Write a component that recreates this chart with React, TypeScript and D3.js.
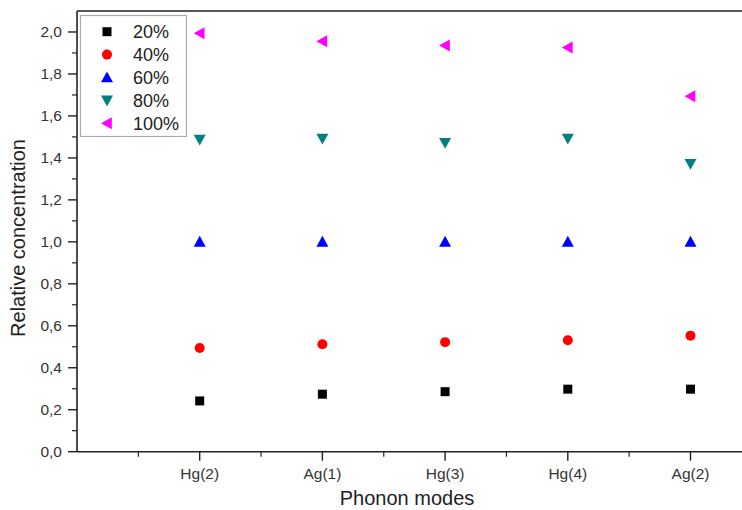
import React from "react";
import * as d3 from "d3";

const categories = ["Hg(2)", "Ag(1)", "Hg(3)", "Hg(4)", "Ag(2)"];
const seriesNames = ["20%", "40%", "60%", "80%", "100%"];
const s20 = [0.242, 0.274, 0.286, 0.298, 0.298];
const s40 = [0.494, 0.512, 0.522, 0.531, 0.553];
const s60 = [1.0, 1.0, 1.0, 1.0, 1.0];
const s80 = [1.488, 1.492, 1.472, 1.492, 1.372];
const s100 = [1.994, 1.956, 1.936, 1.926, 1.694];
const yTicks = [0, 0.2, 0.4, 0.6, 0.8, 1.0, 1.2, 1.4, 1.6, 1.8, 2.0];

const W = 742;
const H = 510;
const left = 77;
const top = 11;
const bottom = 451.7;
const right = 742;

const colors = ["#000000", "#ff0000", "#0000ff", "#008080", "#ff00ff"];
const shapes = ["square", "circle", "up", "down", "left"];
const allSeries = [s20, s40, s60, s80, s100];

function Marker({ shape, x, y, color }: { shape: string; x: number; y: number; color: string }) {
  if (shape === "square") return <rect x={x - 4.5} y={y - 4.5} width={9} height={9} fill={color} />;
  if (shape === "circle") return <circle cx={x} cy={y} r={5} fill={color} />;
  const s = 6;
  let pts: [number, number][] = [];
  if (shape === "up") pts = [[x, y - s], [x + s, y + s * 0.8], [x - s, y + s * 0.8]];
  if (shape === "down") pts = [[x, y + s], [x + s, y - s * 0.8], [x - s, y - s * 0.8]];
  if (shape === "left") pts = [[x - s, y], [x + s * 0.8, y - s], [x + s * 0.8, y + s]];
  return <polygon points={pts.map((p) => p.join(",")).join(" ")} fill={color} />;
}

export default function App() {
  const x = d3.scaleLinear().domain([0, (right - left) / 122.7]).range([left, right]);
  const y = d3.scaleLinear().domain([0, 2.1]).range([bottom, top]);
  const minorY = d3.range(0.1, 2.1, 0.2);
  const minorX = [0.5, 1.5, 2.5, 3.5, 4.5];
  const font = "'Liberation Sans', Arial, sans-serif";

  return (
    <svg width={W} height={H} style={{ position: "absolute", left: 0, top: 0, background: "#fff" }} fontFamily={font}>
      <rect x={0} y={0} width={W} height={H} fill="#fff" />
      <line x1={left} x2={right} y1={top} y2={top} stroke="#222" strokeWidth={1.6} />
      <line x1={left} x2={left} y1={top} y2={bottom} stroke="#222" strokeWidth={1.6} />
      <line x1={left} x2={right} y1={bottom} y2={bottom} stroke="#222" strokeWidth={1.6} />
      {yTicks.map((t) => (
        <g key={"y" + t}>
          <line x1={left - 9} x2={left} y1={y(t)} y2={y(t)} stroke="#222" strokeWidth={1.4} />
          <text x={62} y={y(t) + 5.5} textAnchor="end" fontSize={15.5} fill="#333">
            {t.toFixed(1).replace(".", ",")}
          </text>
        </g>
      ))}
      {minorY.map((t) => (
        <line key={"my" + t} x1={left - 5} x2={left} y1={y(t)} y2={y(t)} stroke="#222" strokeWidth={1.2} />
      ))}
      {categories.map((c, i) => (
        <g key={c}>
          <line x1={x(i + 1)} x2={x(i + 1)} y1={bottom} y2={bottom + 9} stroke="#222" strokeWidth={1.4} />
          <text x={x(i + 1)} y={479} textAnchor="middle" fontSize={15.5} fill="#333">
            {c}
          </text>
        </g>
      ))}
      {minorX.map((t) => (
        <line key={"mx" + t} x1={x(t)} x2={x(t)} y1={bottom} y2={bottom + 5} stroke="#222" strokeWidth={1.2} />
      ))}
      <text x={407} y={505} textAnchor="middle" fontSize={20} fill="#222">
        Phonon modes
      </text>
      <text transform={`translate(25,${238}) rotate(-90)`} textAnchor="middle" fontSize={20} fill="#222">
        Relative concentration
      </text>
      {allSeries.map((s, si) =>
        s.map((v, i) => (
          <Marker key={si + "-" + i} shape={shapes[si]} x={x(i + 1)} y={y(v)} color={colors[si]} />
        ))
      )}
      <rect x={80.5} y={15.5} width={106} height={121} fill="#fff" stroke="#aaa" strokeWidth={1.2} />
      {seriesNames.map((n, i) => {
        const ly = 31.7 + i * 22.9;
        return (
          <g key={n}>
            <Marker shape={shapes[i]} x={107} y={ly} color={colors[i]} />
            <text x={133} y={ly + 6.5} fontSize={18} fill="#222">
              {n}
            </text>
          </g>
        );
      })}
    </svg>
  );
}
